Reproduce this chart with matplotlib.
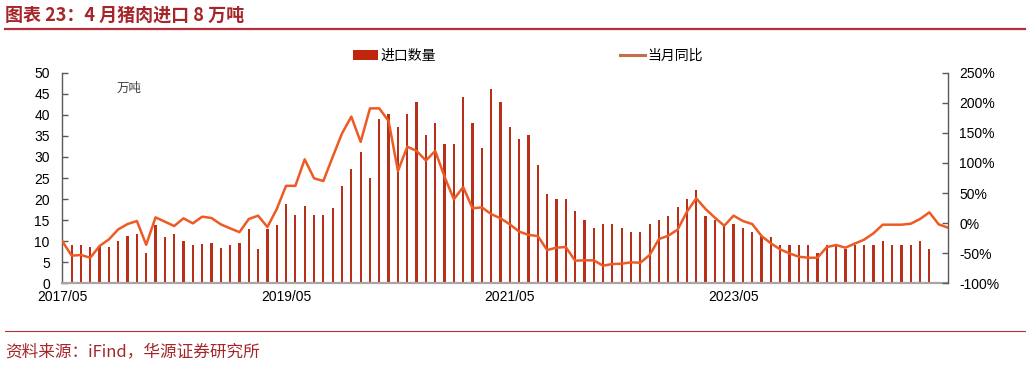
import matplotlib
matplotlib.use("Agg")
import matplotlib.pyplot as plt
from matplotlib.patches import Patch
from matplotlib.lines import Line2D
import numpy as np

plt.rcParams['font.family'] = ['Liberation Sans', 'Noto Sans CJK SC', 'DejaVu Sans']

# ---------------- data ----------------
months = []
y, m = 2017, 5
for _ in range(96):
    months.append(f"{y}/{m:02d}")
    m += 1
    if m > 12:
        m = 1
        y += 1

import_volume = [
    12.1, 9.1, 9.0, 8.5, 8.8, 8.6, 10.1, 11.2, 11.8, 7.2,
    13.8, 11.1, 11.6, 10.0, 9.0, 9.4, 9.5, 8.3, 9.2, 9.6,
    12.8, 8.2, 12.8, 13.8, 18.9, 16.2, 18.3, 16.3, 16.3, 17.8,
    23.1, 27.1, 31.2, 25.0, 39.1, 40.1, 37.2, 40.1, 43.1, 35.1,
    38.1, 33.1, 33.1, 44.2, 38.1, 32.1, 46.2, 43.1, 37.2, 34.2,
    35.1, 28.2, 21.2, 20.0, 20.0, 17.1, 15.1, 13.2, 14.0, 14.0,
    13.2, 12.1, 12.1, 14.0, 15.1, 16.0, 18.1, 20.1, 22.1, 16.0,
    15.1, 14.1, 14.1, 13.2, 12.1, 11.2, 11.0, 9.1, 9.1, 9.1,
    9.1, 7.1, 9.1, 9.1, 8.2, 9.1, 9.1, 9.1, 10.1, 9.1,
    9.1, 9.1, 10.1, 8.1, 0.2, 0.0,
]

yoy_pct = [
    -30, -54, -53, -57.5, -38, -27, -10.4, -1.5, 3.5, -36,
    9.6, 2.4, -4.8, 8, -0.4, 10.7, 8.5, -2, -8.7, -15,
    6.8, 12.4, -6.5, 23.4, 62, 62, 106, 74.5, 70, 110,
    149, 177, 135, 190.7, 190.7, 169.6, 86.6, 127, 120, 104,
    120, 77, 39.6, 60, 24.6, 26.2, 15, 8, -2, -14,
    -19.6, -21.4, -44.7, -40.8, -39.7, -62.4, -61.8, -61.8, -70.7, -68,
    -67.4, -65.2, -65.8, -53, -26.4, -20.9, -10.9, 19, 41.2, 23.4,
    9, -4.3, 12.4, 3.5, -1.5, -21.4, -33.6, -43.6, -50.3, -55.8,
    -57.5, -57.5, -39.8, -36.4, -40.8, -34, -27.5, -17, -2.6, -2.6,
    -2.6, -1, 6.8, 17.9, -2, -7.6,
]

tick_labels = ["2017/05", "2019/05", "2021/05", "2023/05"]
left_ticks = [0, 5, 10, 15, 20, 25, 30, 35, 40, 45, 50]
right_ticks = [-100, -50, 0, 50, 100, 150, 200, 250]

# ---------------- figure ----------------
W, H = 1031, 365
fig = plt.figure(figsize=(W / 100, H / 100), dpi=100)
fig.patch.set_facecolor("white")

ax = fig.add_axes([62.3 / W, 1 - 283.3 / H, (948 - 62.3) / W, (283.3 - 72.7) / H])
x = np.arange(len(months))

bar_color = "#B83019"
line_color = "#EE5A24"

ax.bar(x, import_volume, width=0.24, color=bar_color, linewidth=0, zorder=2)
ax.set_xlim(0, len(months) - 1)
ax.set_ylim(0, 50)
ax.set_yticks(left_ticks)
ax.set_yticklabels([str(t) for t in left_ticks])
tick_pos = [months.index(t) for t in tick_labels]
ax.set_xticks(tick_pos)
ax.set_xticklabels(tick_labels)

ax2 = ax.twinx()
ax2.plot(x, yoy_pct, color=line_color, linewidth=1.8, zorder=3, solid_joinstyle="round")
ax2.set_ylim(-100, 250)
ax2.set_yticks(right_ticks)
ax2.set_yticklabels([f"{t}%" for t in right_ticks])
ax2.set_xlim(0, len(months) - 1)

for a in (ax, ax2):
    a.spines["top"].set_visible(False)
    a.spines["left"].set_color("#595959")
    a.spines["right"].set_color("#595959")
    a.spines["left"].set_linewidth(1.0)
    a.spines["right"].set_linewidth(1.0)
    a.spines["bottom"].set_color("#A6A6A6")
    a.spines["bottom"].set_linewidth(1.6)
    a.set_facecolor("none")

ax.spines["right"].set_visible(False)
ax2.spines["left"].set_visible(False)
ax2.spines["bottom"].set_visible(False)

ax.tick_params(axis="y", direction="in", length=4, width=1, color="#595959",
               labelsize=10, pad=9, labelcolor="#000000")
ax.tick_params(axis="x", length=0, labelsize=10, pad=5, labelcolor="#000000")
ax2.tick_params(axis="y", direction="in", length=4, width=1, color="#595959",
                labelsize=10, pad=8, labelcolor="#000000")

fig.text(117 / W, 1 - 89 / H, "万吨", fontsize=9,
         color="#404040", va="center", ha="left")

# legend
handles = [Patch(facecolor="#C0260E", edgecolor="none"),
           Line2D([0], [0], color="#C0704A", linewidth=2.2)]
fig.legend(handles, ["进口数量", "当月同比"], loc="center",
           bbox_to_anchor=(528 / W, 1 - 56 / H), ncol=2, frameon=False,
           fontsize=10, handlelength=1.8, handleheight=0.8, handletextpad=0.2,
           columnspacing=13.2)

# title & footer
fig.text(5 / W, 1 - 15 / H, "图表 23：4 月猪肉进口 8 万吨", fontsize=13,
         fontweight="bold", color="#A5262A", va="center", ha="left",
         family=["Noto Sans CJK SC", "DejaVu Sans"])
fig.add_artist(Line2D([5 / W, 1025 / W], [1 - 29 / H, 1 - 29 / H],
                      color="#B5303A", linewidth=1.6, transform=fig.transFigure))
fig.add_artist(Line2D([5 / W, 1025 / W], [1 - 331 / H, 1 - 331 / H],
                      color="#B5303A", linewidth=0.8, transform=fig.transFigure))
fig.text(5 / W, 1 - 352 / H, "资料来源：iFind，华源证券研究所", fontsize=12,
         color="#A5262A", va="center", ha="left",
         family=["Noto Sans CJK SC", "DejaVu Sans"])

fig.savefig("out.png", dpi=100, facecolor="white")
